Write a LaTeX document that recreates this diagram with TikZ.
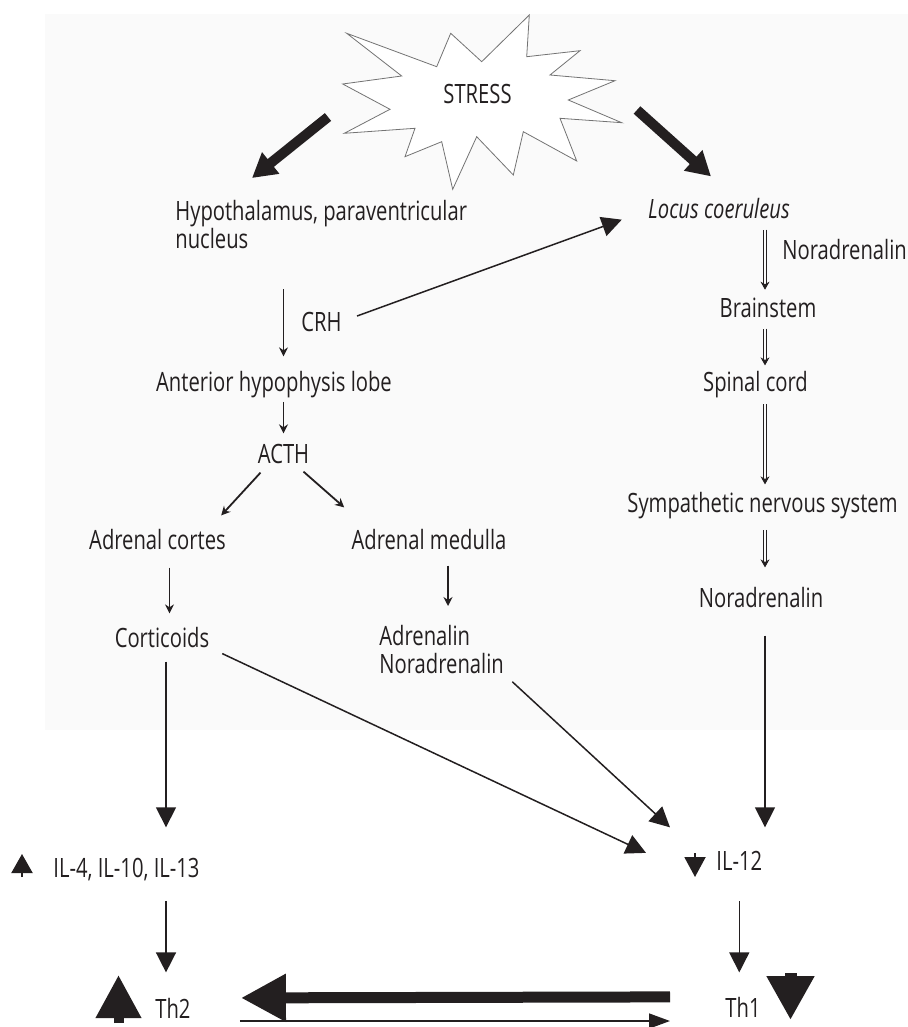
\documentclass[tikz,border=0pt]{standalone}
\usepackage{fontspec}
\setmainfont{Open Sans}[FakeStretch=0.76]
\usetikzlibrary{arrows.meta,calc}
\definecolor{ink}{HTML}{231F20}
\definecolor{panel}{HTML}{FAFAFA}

\begin{document}
\begin{tikzpicture}[
  x = 0.5pt, y = -0.5pt,
  font = \fontsize{13.3}{14}\selectfont,
  every node/.style = {inner sep=0pt, text=ink, align=center},
  lbl/.style    = {anchor=base},
  lblw/.style   = {anchor=base west},
  starline/.style = {draw=black!55, line width=0.4pt, fill=white, line join=miter},
  arr/.style    = {draw=ink, line width=0.75pt, -{Triangle[length=10pt,width=10pt]}},
  small/.style  = {draw=ink, line width=0.9pt, -{Stealth[length=4.5pt,width=4.5pt]}},
  dbl/.style    = {draw=ink, line width=0.45pt, double=panel, double distance=1.3pt,
                   -{Stealth[length=4pt,width=4.5pt]}},
  fat/.style    = {draw=ink, line width=5pt, -{Triangle[length=12pt,width=13pt]}},
  heavy/.style  = {draw=ink, line width=5.5pt, -{Triangle[length=22.5pt,width=22.5pt]}},
  back/.style   = {draw=ink, line width=0.75pt, -{Triangle[length=10.5pt,width=7.5pt]}},
  upmark/.style = {draw=ink, line width=1pt, -{Triangle[length=9.5pt,width=10.5pt]}},
  dnmark/.style = {draw=ink, line width=1pt, -{Triangle[length=10pt,width=10.5pt]}},
  bigup/.style  = {draw=ink, line width=5pt, -{Triangle[length=21.5pt,width=21.5pt]}},
  bigdn/.style  = {draw=ink, line width=6pt, -{Triangle[length=22pt,width=22.5pt]}},
]
\useasboundingbox (0,0) rectangle (908,1027);
\fill[panel] (45,14) rectangle (908,730);

% Stress burst
\draw[starline] (346.7,33.3) -- (436.7,66.7) -- (450.7,33.3) -- (481.7,61.7)
  -- (529.3,15) -- (526.7,56.7) -- (580,50.7) -- (550,75) -- (615,80.7)
  -- (568.3,100) -- (621.7,122.7) -- (560,118.3) -- (576.7,161) -- (523.3,131.7)
  -- (513.3,175) -- (476.7,136.7) -- (452.7,189.3) -- (441.7,141.7) -- (405,156.7)
  -- (415,128.3) -- (344.3,133.3) -- (390,109.3) -- (342.7,84) -- (401.7,76) -- cycle;
\node[lbl] (stress) at (477.5,104) {STRESS};
\coordinate (stressL) at (328,117);
\coordinate (stressR) at (637,110);
\coordinate (col) at (765,0);

% Left branch: HPA axis
\node[anchor=north west, align=left] (hypo) at (175,200) {Hypothalamus, paraventricular\\nucleus};
\node[lbl] (crh)     at (321.5,331) {CRH};
\node[lbl] (ahl)     at (274,391)   {Anterior hypophysis lobe};
\node[lbl] (acth)    at (283.5,463) {ACTH};
\node[lbl] (cortex)  at (157.5,549) {Adrenal cortes};
\node[lbl] (medulla) at (429,549)   {Adrenal medulla};
\node[lbl] (cortic)  at (162,647)   {Corticoids};
\node[anchor=north west, align=left] (adren) at (379,625) {Adrenalin\\Noradrenalin};

% Right branch: sympathetic route
\node[lbl] (locus)  at (719,219)   {\itshape Locus coeruleus};
\node[lblw] (nor1)  at (782,259)   {Noradrenalin};
\node[lbl] (brain)  at (768,317)   {Brainstem};
\node[lbl] (spinal) at (755.5,391) {Spinal cord};
\node[lbl] (sns)    at (762.5,512) {Sympathetic nervous system};
\node[lbl] (nor2)   at (761,607)   {Noradrenalin};

% Cytokines and T helper cells
\node[lblw] (ilth2) at (53,877)  {IL-4, IL-10, IL-13};
\node[lblw] (il12)  at (716,870) {IL-12};
\node[lblw] (th2)   at (155,1018) {Th2};
\node[lblw] (th1)   at (725,1017) {Th1};

% Stress arrows
\draw[fat] (stressL) -- ([shift={(77,-22)}]hypo.north west);
\draw[fat] (stressR) -- ([shift={(-8,-22)}]locus.north);

% HPA arrows
\draw[small, shorten <=20pt, shorten >=7pt] (acth.north |- hypo.south) -- (acth.north |- ahl.north);
\draw[arr, shorten <=8pt] (crh.east) -- ([xshift=-13pt]locus.south west);
\draw[small, shorten <=2pt, shorten >=5pt] (acth.north |- ahl.south) -- (acth.north);
\draw[small] ([shift={(3,9)}]acth.south west) -- ([shift={(-5,-13)}]cortex.north east);
\draw[small] ([shift={(-6,8)}]acth.south east) -- ([shift={(-7,-21)}]medulla.north west);
\draw[small, shorten <=9pt, shorten >=6.5pt] ([xshift=6pt]cortex.south) -- ([xshift=6pt]cortex.south |- cortic.north);
\draw[small, shorten <=8pt, shorten >=9.5pt] ([xshift=9.5pt]medulla.south) -- ([xshift=9.5pt]medulla.south |- adren.north);

% Sympathetic arrows
\draw[dbl, shorten <=5pt, shorten >=3.7pt] (col |- locus.south) -- (col |- brain.north);
\draw[dbl, shorten <=5.5pt, shorten >=2.5pt] (col |- brain.south) -- (col |- spinal.north);
\draw[dbl, shorten <=3pt, shorten >=3.5pt] (col |- spinal.south) -- (col |- sns.north);
\draw[dbl, shorten <=5.5pt, shorten >=9.5pt] (col |- sns.south) -- (col |- nor2.north);

% Into the cytokines
\draw[arr, shorten <=14pt, shorten >=11.5pt] (col |- nor2.south) -- (col |- il12.north);
\draw[arr, shorten <=5.5pt] (adren.south east) -- ([shift={(-46,-23)}]il12.north west);
\draw[arr, shorten <=7pt] (cortic.south east) -- ([shift={(-70,-7.5)}]il12.west);
\draw[arr, shorten <=7pt, shorten >=15pt] ([xshift=2pt]cortic.south) -- ([xshift=2pt]cortic.south |- ilth2.north);
\draw[arr, shorten <=10pt, shorten >=12.5pt] ([xshift=2pt]cortic.south |- ilth2.south) -- ([xshift=2pt]cortic.south |- th2.north);
\draw[arr, shorten <=15.5pt, shorten >=12pt] (il12.south) -- (il12.south |- th1.north);

% Th1 / Th2 balance
\draw[heavy] ([shift={(-55,-10)}]th1.west) -- ([shift={(50,-10)}]th2.east);
\draw[back] ([shift={(49,3)}]th2.base east) -- ([shift={(-55,4)}]th1.base west);

% Up and down marks
\draw[upmark] ([shift={(-31,0)}]ilth2.base west) -- ++(0,-23);
\draw[dnmark] ([shift={(-21,-17)}]il12.base west) -- ++(0,24);
\draw[bigup] ([shift={(-36.5,5)}]th2.base west) -- ++(0,-48);
\draw[bigdn] ([shift={(65.5,-44)}]th1.base west) -- ++(0,47);

\end{tikzpicture}
\end{document}
